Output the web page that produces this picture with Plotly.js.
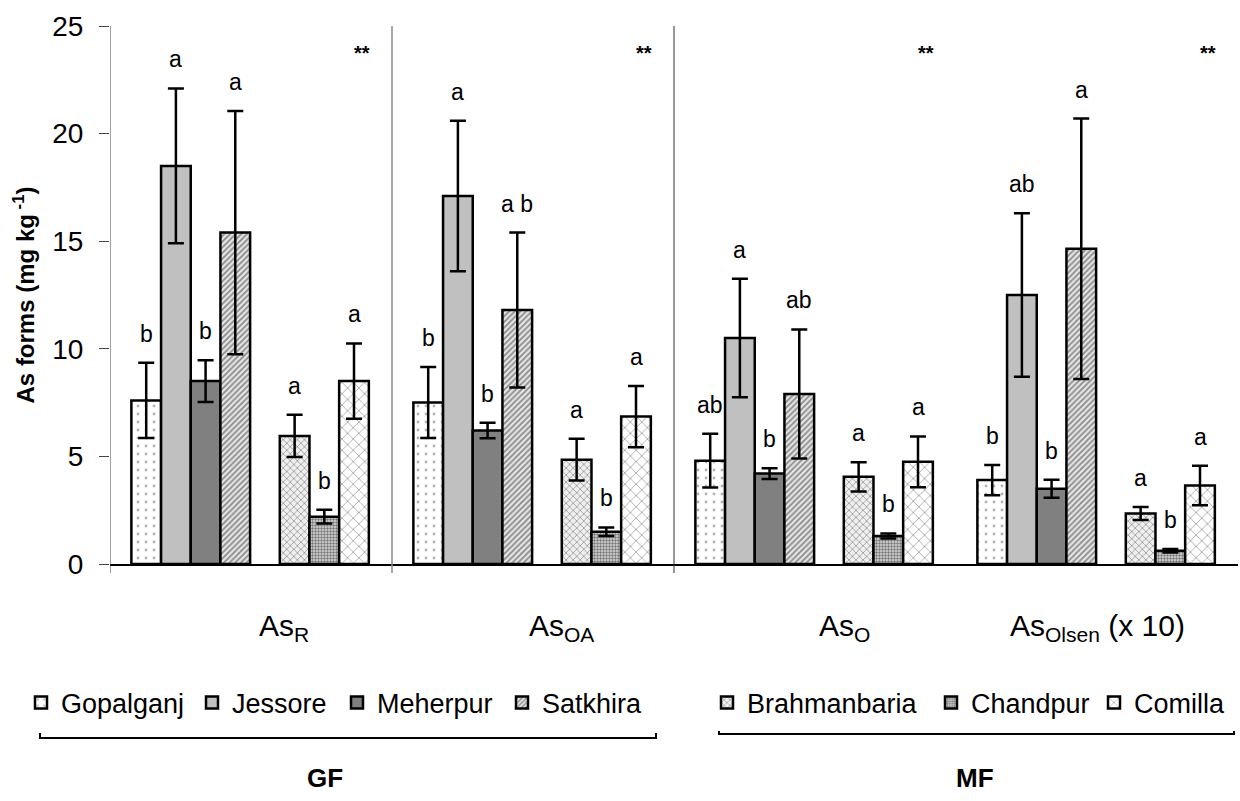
<!DOCTYPE html>
<html>
<head>
<meta charset="utf-8">
<script src="https://cdn.plot.ly/plotly-3.0.1.min.js"></script>
<style>html,body{margin:0;padding:0;background:#fff;}#chart{width:1240px;height:801px;}</style>
</head>
<body>
<div id="chart"></div>
<script>
// ---- data ----
const categories = ['As<sub>R</sub>', 'As<sub>OA</sub>', 'As<sub>O</sub>', 'As<sub>Olsen</sub> (x 10)'];
const significance = ['**', '**', '**', '**'];

const gfSites = ['Gopalganj', 'Jessore', 'Meherpur', 'Satkhira'];
const mfSites = ['Brahmanbaria', 'Chandpur', 'Comilla'];

const gopalganjMean = [7.6, 7.5, 4.8, 3.9];
const gopalganjSd   = [1.75, 1.65, 1.25, 0.7];
const gopalganjLet  = ['b', 'b', 'ab', 'b'];

const jessoreMean = [18.5, 17.1, 10.5, 12.5];
const jessoreSd   = [3.6, 3.5, 2.75, 3.8];
const jessoreLet  = ['a', 'a', 'a', 'ab'];

const meherpurMean = [8.5, 6.2, 4.2, 3.5];
const meherpurSd   = [0.97, 0.36, 0.25, 0.42];
const meherpurLet  = ['b', 'b', 'b', 'b'];

const satkhiraMean = [15.4, 11.8, 7.9, 14.65];
const satkhiraSd   = [5.65, 3.6, 3.0, 6.05];
const satkhiraLet  = ['a', 'a b', 'ab', 'a'];

const brahmanbariaMean = [5.95, 4.85, 4.05, 2.35];
const brahmanbariaSd   = [0.98, 0.97, 0.68, 0.3];
const brahmanbariaLet  = ['a', 'a', 'a', 'a'];

const chandpurMean = [2.2, 1.5, 1.3, 0.62];
const chandpurSd   = [0.32, 0.2, 0.12, 0.08];
const chandpurLet  = ['b', 'b', 'b', 'b'];

const comillaMean = [8.5, 6.85, 4.75, 3.65];
const comillaSd   = [1.75, 1.42, 1.18, 0.92];
const comillaLet  = ['a', 'a', 'a', 'a'];

// ---- layout helpers ----
const FONT = 'Liberation Sans, Arial, sans-serif';
const PANEL = 9.5;      // x units per panel (1 unit = one bar width)
const LEAD = 0.72;      // space before first bar in a panel
const MF_START = 5;     // MF bars start after 4 GF bars + 1 gap
const PL = 110, PT = 26, PW = 1128, PH = 538;
const pxX = px => (px - PL) / PW;           // pixel -> paper x
const pxY = py => 1 - (py - PT) / PH;       // pixel -> paper y

const gfSeries = [
  {name: gfSites[0], mean: gopalganjMean, sd: gopalganjSd, lets: gopalganjLet,
   marker: {color: '#ffffff', pattern: {shape: '.', bgcolor: '#ffffff', fgcolor: '#b4b4b4', size: 8, solidity: 0.1}}},
  {name: gfSites[1], mean: jessoreMean, sd: jessoreSd, lets: jessoreLet,
   marker: {color: '#c0c0c0'}},
  {name: gfSites[2], mean: meherpurMean, sd: meherpurSd, lets: meherpurLet,
   marker: {color: '#808080'}},
  {name: gfSites[3], mean: satkhiraMean, sd: satkhiraSd, lets: satkhiraLet,
   marker: {color: '#d0d0d0', pattern: {shape: '/', bgcolor: '#e6e6e6', fgcolor: '#8a8a8a', size: 4, solidity: 0.45}}}
];
const mfSeries = [
  {name: mfSites[0], mean: brahmanbariaMean, sd: brahmanbariaSd, lets: brahmanbariaLet,
   marker: {color: '#d8d8d8', pattern: {shape: 'x', bgcolor: '#efefef', fgcolor: '#9a9a9a', size: 5, solidity: 0.3}}},
  {name: mfSites[1], mean: chandpurMean, sd: chandpurSd, lets: chandpurLet,
   marker: {color: '#b0b0b0', pattern: {shape: '.', bgcolor: '#dcdcdc', fgcolor: '#777777', size: 3, solidity: 0.5}}},
  {name: mfSites[2], mean: comillaMean, sd: comillaSd, lets: comillaLet,
   marker: {color: '#eeeeee', pattern: {shape: 'x', bgcolor: '#ffffff', fgcolor: '#adadad', size: 8, solidity: 0.22}}}
];

// legend text start (pixels) for each site, GF then MF
const legendTextStart = [62, 233, 378, 543, 748, 972, 1135];

const traces = [];
const annotations = [];
const legends = {};
let legendIndex = 0;

function addSeries(list, startOffset) {
  list.forEach((s, k) => {
    const xs = categories.map((c, i) => PANEL * i + LEAD + startOffset + k + 0.5);
    const marker = Object.assign({}, s.marker, {line: {color: '#000', width: 2.5}});
    const lid = legendIndex === 0 ? 'legend' : 'legend' + (legendIndex + 1);
    legends[lid] = {orientation: 'h', x: pxX(legendTextStart[legendIndex] - 41), xanchor: 'left',
      y: pxY(703), yanchor: 'middle', font: {family: FONT, size: 27, color: '#000'},
      bgcolor: 'rgba(0,0,0,0)', itemclick: false, itemdoubleclick: false};
    legendIndex++;
    traces.push({
      type: 'bar', name: s.name, x: xs, y: s.mean, width: 1,
      marker: marker, legend: lid,
      error_y: {type: 'data', array: s.sd, visible: true, color: '#000', thickness: 2.5, width: 8},
      hoverinfo: 'name+y'
    });
    xs.forEach((x, i) => {
      annotations.push({
        x: x, y: s.mean[i] + s.sd[i], xref: 'x', yref: 'y', text: s.lets[i],
        showarrow: false, xanchor: 'center', yanchor: 'bottom', yshift: 14,
        font: {family: FONT, size: 23, color: '#000'}
      });
    });
  });
}
addSeries(gfSeries, 0);
addSeries(mfSeries, MF_START);

// significance stars
significance.forEach((t, i) => {
  annotations.push({x: PANEL * i + 8.5, y: pxY(53), xref: 'x', yref: 'paper', text: '<b>' + t + '</b>',
    showarrow: false, xanchor: 'center', yanchor: 'middle', font: {family: FONT, size: 20, color: '#000'}});
});
// category labels
const catOffset = [5.85, 5.7, 5.75, 4.75];
categories.forEach((t, i) => {
  annotations.push({x: PANEL * i + catOffset[i], y: pxY(627), xref: 'x', yref: 'paper', text: t,
    showarrow: false, yanchor: 'middle', xanchor: 'center', font: {family: FONT, size: 30, color: '#000'}});
});
// group labels
annotations.push({x: pxX(325), y: pxY(778), xref: 'paper', yref: 'paper', text: '<b>GF</b>', showarrow: false,
  xanchor: 'center', yanchor: 'middle', font: {family: FONT, size: 26, color: '#000'}});
annotations.push({x: pxX(975), y: pxY(778), xref: 'paper', yref: 'paper', text: '<b>MF</b>', showarrow: false,
  xanchor: 'center', yanchor: 'middle', font: {family: FONT, size: 26, color: '#000'}});

const shapes = [
  // y axis extended below zero
  {type: 'line', xref: 'x', yref: 'paper', x0: 0, x1: 0, y0: pxY(573), y1: 1, line: {color: '#444', width: 1}},
  // panel separators
  {type: 'line', xref: 'x', yref: 'paper', x0: PANEL, x1: PANEL, y0: pxY(573), y1: 1, line: {color: '#888', width: 1.5}},
  {type: 'line', xref: 'x', yref: 'paper', x0: PANEL * 2, x1: PANEL * 2, y0: pxY(573), y1: 1, line: {color: '#333', width: 1}},
  // GF bracket
  {type: 'path', xref: 'paper', yref: 'paper',
   path: `M ${pxX(40)} ${pxY(733)} L ${pxX(40)} ${pxY(738)} L ${pxX(656)} ${pxY(738)} L ${pxX(656)} ${pxY(733)}`,
   line: {color: '#000', width: 2}},
  // MF bracket
  {type: 'path', xref: 'paper', yref: 'paper',
   path: `M ${pxX(719)} ${pxY(731)} L ${pxX(719)} ${pxY(734)} L ${pxX(1234)} ${pxY(734)} L ${pxX(1234)} ${pxY(731)}`,
   line: {color: '#000', width: 2}}
];

const layout = Object.assign({
  width: 1240, height: 801,
  margin: {l: PL, r: 2, t: PT, b: 801 - PT - PH},
  paper_bgcolor: '#fff', plot_bgcolor: '#fff',
  font: {family: FONT, color: '#000'},
  barmode: 'overlay',
  showlegend: true,
  xaxis: {range: [0, PANEL * 4], showgrid: false, zeroline: false, showticklabels: false, ticks: '',
          showline: true, linecolor: '#000', linewidth: 1.5, fixedrange: true},
  yaxis: {range: [0, 25], tickvals: [0, 5, 10, 15, 20, 25], showgrid: false, zeroline: false,
          showline: false, ticks: 'outside', ticklen: 10, tickcolor: '#444', tickwidth: 1,
          ticklabelstandoff: 10,
          tickfont: {family: FONT, size: 28, color: '#000'},
          title: {text: '<b>As forms (mg kg<sup> -1</sup>)</b>', font: {family: FONT, size: 24, color: '#000'}, standoff: 10},
          fixedrange: true},
  annotations: annotations,
  shapes: shapes
}, legends);

Plotly.newPlot('chart', traces, layout, {displayModeBar: false, staticPlot: true});
</script>
</body>
</html>
